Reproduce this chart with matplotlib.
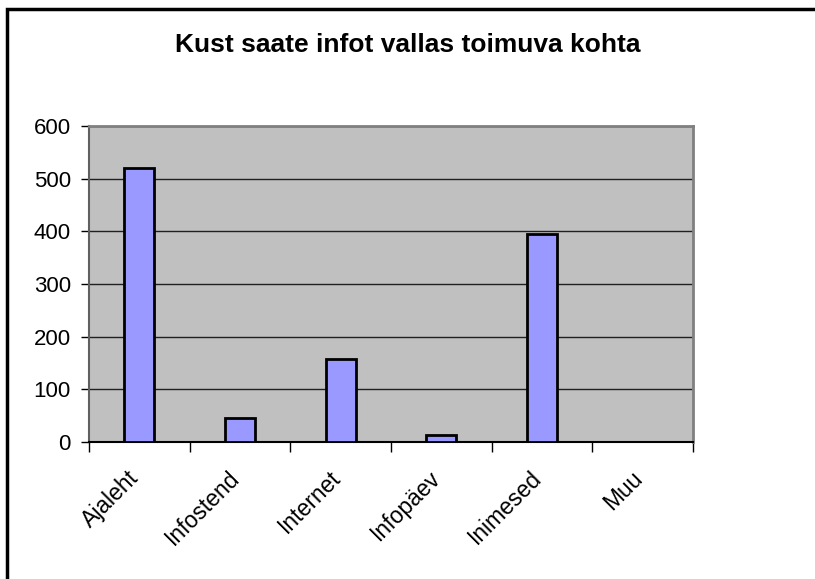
import matplotlib.pyplot as plt
import matplotlib.transforms as mtransforms
import numpy as np

plt.rcParams['font.family'] = ['Liberation Sans', 'DejaVu Sans']

categories = ['Ajaleht', 'Infostend', 'Internet', 'Infopäev', 'Inimesed', 'Muu']
counts = [520, 45, 158, 14, 394, 0]
yticks = [0, 100, 200, 300, 400, 500, 600]

fig = plt.figure(figsize=(8.15, 5.79), dpi=100)
ax = fig.add_axes([89 / 815, 1 - 442 / 579, (693 - 89) / 815, (442 - 126) / 579])

x = np.arange(len(categories))
ax.bar(x, counts, width=0.3, color='#9999ff', edgecolor='black', linewidth=2, zorder=3)

ax.set_facecolor('#c0c0c0')
ax.set_xlim(-0.5, len(categories) - 0.5)
ax.set_ylim(0, 600)
ax.set_yticks(yticks)
ax.yaxis.grid(True, color='#202020', linewidth=1, zorder=1)

# category ticks sit between the bars
ax.set_xticks(np.arange(len(categories) + 1) - 0.5)
ax.set_xticklabels([])
ax.set_xticks(x, minor=True)
ax.set_xticklabels(categories, minor=True, rotation=45, ha='right',
                   rotation_mode='anchor', fontsize=16.5)
ax.tick_params(axis='x', which='minor', length=0, pad=12)
ax.tick_params(axis='x', which='major', length=7, width=1, color='black')
ax.tick_params(axis='y', length=6, width=1, labelsize=16, pad=7)

# nudge the slanted labels down and to the left
shift = mtransforms.ScaledTranslation(-0.12, -0.08, fig.dpi_scale_trans)
for lbl in ax.get_xticklabels(minor=True):
    lbl.set_transform(lbl.get_transform() + shift)

for side in ['top', 'right']:
    ax.spines[side].set_color('#808080')
    ax.spines[side].set_linewidth(2)
ax.spines['left'].set_color('#606060')
ax.spines['left'].set_linewidth(1.5)
ax.spines['bottom'].set_color('black')
ax.spines['bottom'].set_linewidth(1.5)

fig.text(0.5, 1 - 45 / 579, 'Kust saate infot vallas toimuva kohta',
         ha='center', va='center', fontsize=19, fontweight='bold')

# outer chart border
frame = plt.Rectangle((7 / 815, -0.1), 1.2, 1 - 9 / 579 + 0.1, transform=fig.transFigure,
                      fill=False, edgecolor='black', linewidth=2.5)
fig.add_artist(frame)

fig.savefig('out.png', dpi=100)
